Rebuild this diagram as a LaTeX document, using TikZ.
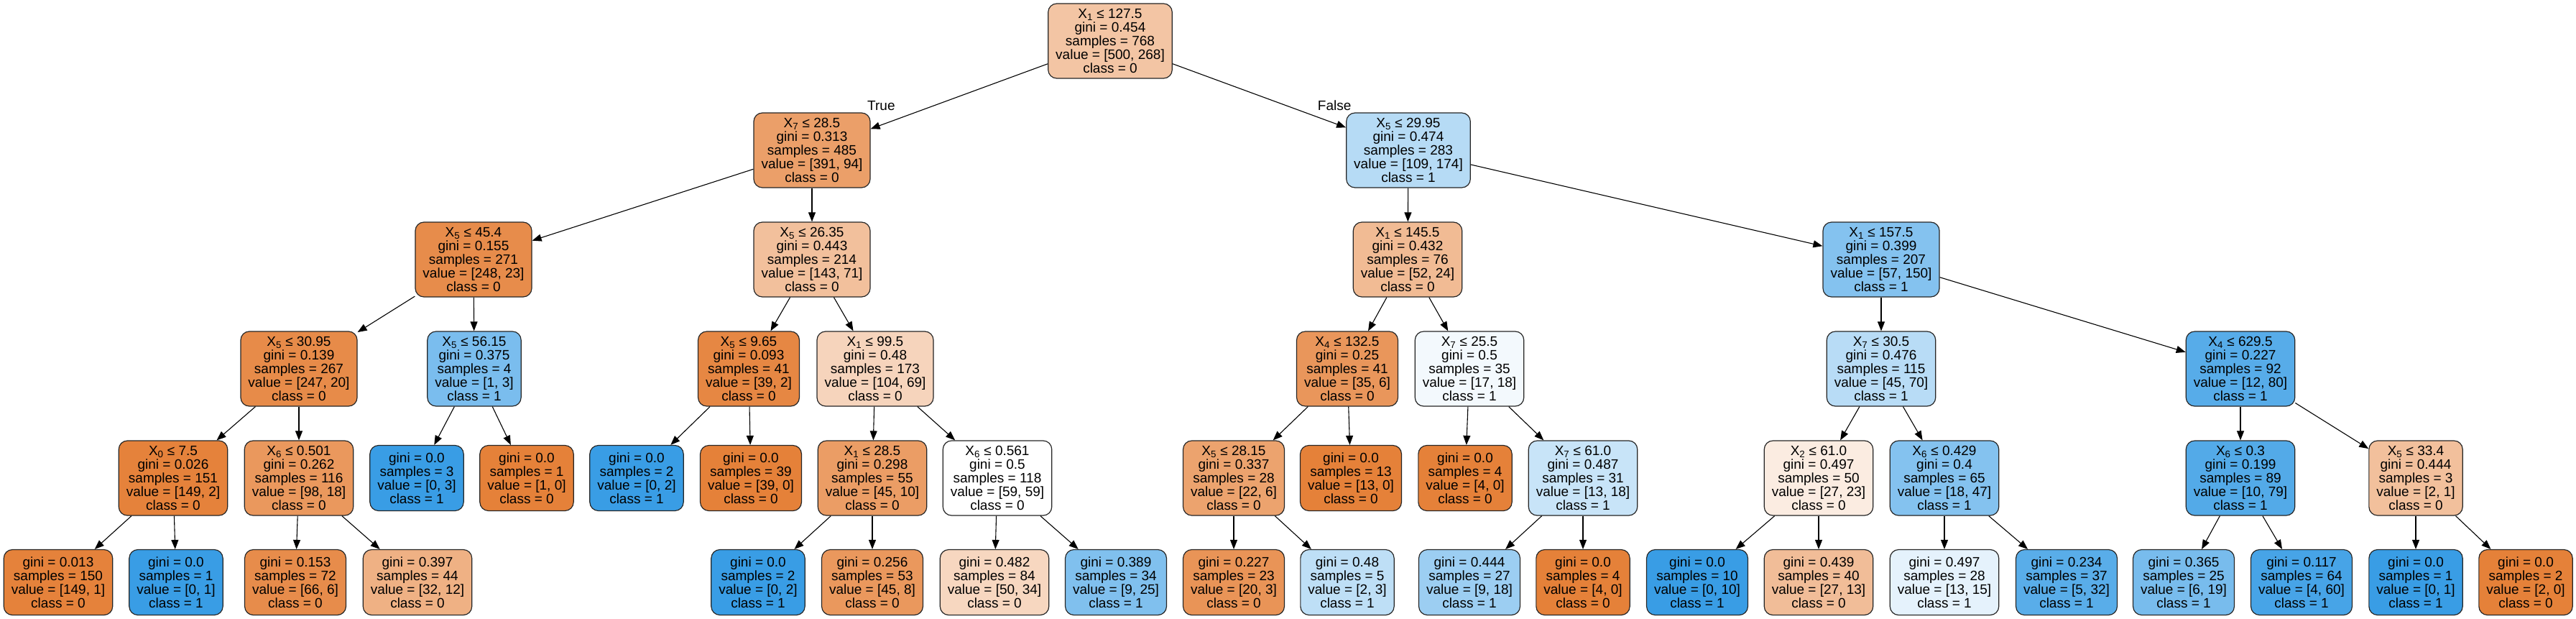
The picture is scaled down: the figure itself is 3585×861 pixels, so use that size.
\documentclass[tikz,border=0pt]{standalone}
\usepackage{fontspec}
\setmainfont{Liberation Sans}
\usepackage{tikz}
\usetikzlibrary{arrows.meta}
\definecolor{orangecls}{RGB}{229,129,57}
\definecolor{bluecls}{RGB}{57,157,229}
\newcommand{\treefont}{\fontsize{19}{19}\selectfont}
\begin{document}
\begin{tikzpicture}[x=1pt,y=-1pt,
  split/.style={draw=black!85,line width=1.2pt,rounded corners=12pt,align=center,font=\treefont,inner xsep=10.5pt,inner ysep=3pt,minimum height=104pt},
  leaf/.style={split,minimum height=91pt},
  edge/.style={line width=1.1pt,-{Triangle[length=13pt,width=10pt]}},
  tag/.style={font=\treefont,inner sep=0pt}]
\useasboundingbox (0,0) rectangle (3585,861);
\node [split,fill=orangecls!46!white] (n0) at (1545,57) {X\textsubscript{1} ≤ 127.5\\gini = 0.454\\samples = 768\\value = [500, 268]\\class = 0};
\node [split,fill=orangecls!76!white] (n1) at (1130,209) {X\textsubscript{7} ≤ 28.5\\gini = 0.313\\samples = 485\\value = [391, 94]\\class = 0};
\node [split,fill=bluecls!37!white] (n2) at (1960,209) {X\textsubscript{5} ≤ 29.95\\gini = 0.474\\samples = 283\\value = [109, 174]\\class = 1};
\node [split,fill=orangecls!91!white] (n3) at (659,361) {X\textsubscript{5} ≤ 45.4\\gini = 0.155\\samples = 271\\value = [248, 23]\\class = 0};
\node [split,fill=orangecls!50!white] (n4) at (1130,361) {X\textsubscript{5} ≤ 26.35\\gini = 0.443\\samples = 214\\value = [143, 71]\\class = 0};
\node [split,fill=orangecls!54!white] (n5) at (1959,361) {X\textsubscript{1} ≤ 145.5\\gini = 0.432\\samples = 76\\value = [52, 24]\\class = 0};
\node [split,fill=bluecls!62!white] (n6) at (2618,361) {X\textsubscript{1} ≤ 157.5\\gini = 0.399\\samples = 207\\value = [57, 150]\\class = 1};
\node [split,fill=orangecls!92!white] (n7) at (416,513) {X\textsubscript{5} ≤ 30.95\\gini = 0.139\\samples = 267\\value = [247, 20]\\class = 0};
\node [split,fill=bluecls!67!white] (n8) at (660,513) {X\textsubscript{5} ≤ 56.15\\gini = 0.375\\samples = 4\\value = [1, 3]\\class = 1};
\node [split,fill=orangecls!95!white] (n9) at (1042,513) {X\textsubscript{5} ≤ 9.65\\gini = 0.093\\samples = 41\\value = [39, 2]\\class = 0};
\node [split,fill=orangecls!34!white] (n10) at (1218,513) {X\textsubscript{1} ≤ 99.5\\gini = 0.48\\samples = 173\\value = [104, 69]\\class = 0};
\node [split,fill=orangecls!83!white] (n11) at (1875,513) {X\textsubscript{4} ≤ 132.5\\gini = 0.25\\samples = 41\\value = [35, 6]\\class = 0};
\node [split,fill=bluecls!6!white] (n12) at (2045,513) {X\textsubscript{7} ≤ 25.5\\gini = 0.5\\samples = 35\\value = [17, 18]\\class = 1};
\node [split,fill=bluecls!36!white] (n13) at (2618,513) {X\textsubscript{7} ≤ 30.5\\gini = 0.476\\samples = 115\\value = [45, 70]\\class = 1};
\node [split,fill=bluecls!85!white] (n14) at (3118,513) {X\textsubscript{4} ≤ 629.5\\gini = 0.227\\samples = 92\\value = [12, 80]\\class = 1};
\node [split,fill=orangecls!99!white] (n15) at (241,665) {X\textsubscript{0} ≤ 7.5\\gini = 0.026\\samples = 151\\value = [149, 2]\\class = 0};
\node [split,fill=orangecls!82!white] (n16) at (416,665) {X\textsubscript{6} ≤ 0.501\\gini = 0.262\\samples = 116\\value = [98, 18]\\class = 0};
\node [leaf,fill=bluecls] (n17) at (580,665) {gini = 0.0\\samples = 3\\value = [0, 3]\\class = 1};
\node [leaf,fill=orangecls] (n18) at (733,665) {gini = 0.0\\samples = 1\\value = [1, 0]\\class = 0};
\node [leaf,fill=bluecls] (n19) at (886,665) {gini = 0.0\\samples = 2\\value = [0, 2]\\class = 1};
\node [leaf,fill=orangecls] (n20) at (1045,665) {gini = 0.0\\samples = 39\\value = [39, 0]\\class = 0};
\node [split,fill=orangecls!78!white] (n21) at (1214,665) {X\textsubscript{1} ≤ 28.5\\gini = 0.298\\samples = 55\\value = [45, 10]\\class = 0};
\node [split,fill=white] (n22) at (1388,665) {X\textsubscript{6} ≤ 0.561\\gini = 0.5\\samples = 118\\value = [59, 59]\\class = 0};
\node [split,fill=orangecls!73!white] (n23) at (1717,665) {X\textsubscript{5} ≤ 28.15\\gini = 0.337\\samples = 28\\value = [22, 6]\\class = 0};
\node [leaf,fill=orangecls] (n24) at (1880,665) {gini = 0.0\\samples = 13\\value = [13, 0]\\class = 0};
\node [leaf,fill=orangecls] (n25) at (2039,665) {gini = 0.0\\samples = 4\\value = [4, 0]\\class = 0};
\node [split,fill=bluecls!28!white] (n26) at (2203,665) {X\textsubscript{7} ≤ 61.0\\gini = 0.487\\samples = 31\\value = [13, 18]\\class = 1};
\node [split,fill=orangecls!15!white] (n27) at (2531,665) {X\textsubscript{2} ≤ 61.0\\gini = 0.497\\samples = 50\\value = [27, 23]\\class = 0};
\node [split,fill=bluecls!62!white] (n28) at (2706,665) {X\textsubscript{6} ≤ 0.429\\gini = 0.4\\samples = 65\\value = [18, 47]\\class = 1};
\node [split,fill=bluecls!87!white] (n29) at (3118,665) {X\textsubscript{6} ≤ 0.3\\gini = 0.199\\samples = 89\\value = [10, 79]\\class = 1};
\node [split,fill=orangecls!50!white] (n30) at (3362,665) {X\textsubscript{5} ≤ 33.4\\gini = 0.444\\samples = 3\\value = [2, 1]\\class = 0};
\node [leaf,fill=orangecls!99!white] (l1) at (81,810) {gini = 0.013\\samples = 150\\value = [149, 1]\\class = 0};
\node [leaf,fill=bluecls] (l2) at (245,810) {gini = 0.0\\samples = 1\\value = [0, 1]\\class = 1};
\node [leaf,fill=orangecls!91!white] (l3) at (411,810) {gini = 0.153\\samples = 72\\value = [66, 6]\\class = 0};
\node [leaf,fill=orangecls!62!white] (l4) at (581,810) {gini = 0.397\\samples = 44\\value = [32, 12]\\class = 0};
\node [leaf,fill=bluecls] (l5) at (1055,810) {gini = 0.0\\samples = 2\\value = [0, 2]\\class = 1};
\node [leaf,fill=orangecls!82!white] (l6) at (1214,810) {gini = 0.256\\samples = 53\\value = [45, 8]\\class = 0};
\node [leaf,fill=orangecls!32!white] (l7) at (1384,810) {gini = 0.482\\samples = 84\\value = [50, 34]\\class = 0};
\node [leaf,fill=bluecls!64!white] (l8) at (1553,810) {gini = 0.389\\samples = 34\\value = [9, 25]\\class = 1};
\node [leaf,fill=orangecls!85!white] (l9) at (1717,810) {gini = 0.227\\samples = 23\\value = [20, 3]\\class = 0};
\node [leaf,fill=bluecls!33!white] (l10) at (1875,810) {gini = 0.48\\samples = 5\\value = [2, 3]\\class = 1};
\node [leaf,fill=bluecls!50!white] (l11) at (2045,810) {gini = 0.444\\samples = 27\\value = [9, 18]\\class = 1};
\node [leaf,fill=orangecls] (l12) at (2203,810) {gini = 0.0\\samples = 4\\value = [4, 0]\\class = 0};
\node [leaf,fill=bluecls] (l13) at (2362,810) {gini = 0.0\\samples = 10\\value = [0, 10]\\class = 1};
\node [leaf,fill=orangecls!52!white] (l14) at (2531,810) {gini = 0.439\\samples = 40\\value = [27, 13]\\class = 0};
\node [leaf,fill=bluecls!13!white] (l15) at (2706,810) {gini = 0.497\\samples = 28\\value = [13, 15]\\class = 1};
\node [leaf,fill=bluecls!84!white] (l16) at (2876,810) {gini = 0.234\\samples = 37\\value = [5, 32]\\class = 1};
\node [leaf,fill=bluecls!68!white] (l17) at (3039,810) {gini = 0.365\\samples = 25\\value = [6, 19]\\class = 1};
\node [leaf,fill=bluecls!93!white] (l18) at (3203,810) {gini = 0.117\\samples = 64\\value = [4, 60]\\class = 1};
\node [leaf,fill=bluecls] (l19) at (3362,810) {gini = 0.0\\samples = 1\\value = [0, 1]\\class = 1};
\node [leaf,fill=orangecls] (l20) at (3515,810) {gini = 0.0\\samples = 2\\value = [2, 0]\\class = 0};
\draw [edge] (n0) -- node [tag,pos=0.94,yshift=27pt] {True} (n1);
\draw [edge] (n0) -- node [tag,pos=0.934,yshift=25pt] {False} (n2);
\draw [edge] (n1) -- (n3);
\draw [edge] (n1) -- (n4);
\draw [edge] (n2) -- (n5);
\draw [edge] (n2) -- (n6);
\draw [edge] (n3) -- (n7);
\draw [edge] (n3) -- (n8);
\draw [edge] (n4) -- (n9);
\draw [edge] (n4) -- (n10);
\draw [edge] (n5) -- (n11);
\draw [edge] (n5) -- (n12);
\draw [edge] (n6) -- (n13);
\draw [edge] (n6) -- (n14);
\draw [edge] (n7) -- (n15);
\draw [edge] (n7) -- (n16);
\draw [edge] (n8) -- (n17);
\draw [edge] (n8) -- (n18);
\draw [edge] (n9) -- (n19);
\draw [edge] (n9) -- (n20);
\draw [edge] (n10) -- (n21);
\draw [edge] (n10) -- (n22);
\draw [edge] (n11) -- (n23);
\draw [edge] (n11) -- (n24);
\draw [edge] (n12) -- (n25);
\draw [edge] (n12) -- (n26);
\draw [edge] (n13) -- (n27);
\draw [edge] (n13) -- (n28);
\draw [edge] (n14) -- (n29);
\draw [edge] (n14) -- (n30);
\draw [edge] (n15) -- (l1);
\draw [edge] (n15) -- (l2);
\draw [edge] (n16) -- (l3);
\draw [edge] (n16) -- (l4);
\draw [edge] (n21) -- (l5);
\draw [edge] (n21) -- (l6);
\draw [edge] (n22) -- (l7);
\draw [edge] (n22) -- (l8);
\draw [edge] (n23) -- (l9);
\draw [edge] (n23) -- (l10);
\draw [edge] (n26) -- (l11);
\draw [edge] (n26) -- (l12);
\draw [edge] (n27) -- (l13);
\draw [edge] (n27) -- (l14);
\draw [edge] (n28) -- (l15);
\draw [edge] (n28) -- (l16);
\draw [edge] (n29) -- (l17);
\draw [edge] (n29) -- (l18);
\draw [edge] (n30) -- (l19);
\draw [edge] (n30) -- (l20);
\end{tikzpicture}
\end{document}
